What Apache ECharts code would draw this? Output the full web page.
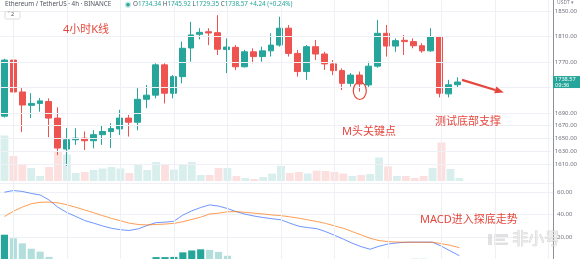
<!DOCTYPE html>
<html><head><meta charset="utf-8">
<script src="https://cdn.jsdelivr.net/npm/echarts@6/dist/echarts.min.js"></script>
<style>html,body{margin:0;padding:0;background:#fff}#c{width:580px;height:259px}</style>
</head><body><div id="c"></div>
<script>
// ---- data ----
const categories = ['06-09 20:00',
 '06-10 00:00','06-10 04:00','06-10 08:00','06-10 12:00','06-10 16:00','06-10 20:00',
 '06-11 00:00','06-11 04:00','06-11 08:00','06-11 12:00','06-11 16:00','06-11 20:00',
 '06-12 00:00','06-12 04:00','06-12 08:00','06-12 12:00','06-12 16:00','06-12 20:00',
 '06-13 00:00','06-13 04:00','06-13 08:00','06-13 12:00','06-13 16:00','06-13 20:00',
 '06-14 00:00','06-14 04:00','06-14 08:00','06-14 12:00','06-14 16:00','06-14 20:00',
 '06-15 00:00','06-15 04:00','06-15 08:00','06-15 12:00','06-15 16:00','06-15 20:00',
 '06-16 00:00','06-16 04:00','06-16 08:00','06-16 12:00','06-16 16:00','06-16 20:00',
 '06-17 00:00','06-17 04:00','06-17 08:00','06-17 12:00','06-17 16:00','06-17 20:00',
 '06-18 00:00','06-18 04:00','06-18 08:00'];
const futureSlots = ['06-18 12:00','06-18 16:00','06-18 20:00','06-19 00:00','06-19 04:00',
 '06-19 08:00','06-19 12:00','06-19 16:00','06-19 20:00','06-20 00:00'];
const opens  = [1685,1773,1723,1702,1705,1708,1682,1633.5,1648,1650.5,1646.5,1656,1661,1665,1682,1675.5,1711.5,1718,1765.5,1721,1747,1792,1813.5,1817.5,1816,1789.5,1793,1762.5,1786,1778.5,1787.5,1796.5,1823,1783.5,1755,1794,1782.5,1767,1756.5,1736.5,1749.5,1734,1763.5,1815,1795,1804,1802,1795.5,1787.5,1809.5,1720,1734.34];
const closes = [1773,1723,1702.5,1705,1709,1682,1635,1648,1650.5,1646.5,1656,1661,1665.5,1682,1675.5,1711.5,1718,1765.5,1721,1747,1791.5,1812.5,1816.5,1815.5,1790,1793.5,1762.5,1786,1778.5,1787.5,1796.5,1823,1783.5,1755,1794,1782.5,1767,1756.5,1736.5,1749.5,1735.5,1763.5,1815,1795,1803.5,1802,1795.5,1787.5,1809.5,1721,1734.33,1738.57];
const lows   = [1683,1687,1660,1682,1692,1652,1624,1607,1640,1632,1634.5,1640,1635,1655.5,1653,1663,1697.5,1713,1705,1713,1736.5,1770.5,1805.5,1796.5,1781,1752.5,1757.5,1761.5,1768,1770.5,1778.5,1794,1778.5,1747,1742,1773,1757.5,1749.5,1726,1731.5,1723.5,1730.5,1761,1778.5,1786,1781,1791.5,1784.5,1786,1714.5,1714.5,1729.35];
const highs  = [1775,1778,1729,1721,1713.5,1713,1699,1666.5,1666,1661,1663,1671,1674,1695,1687,1729,1734,1768,1768,1749.5,1802,1833,1823,1823,1843.5,1807,1796.5,1789,1791.5,1794,1815,1841,1828,1789,1796.5,1804.5,1786,1773,1760,1752.5,1755,1770.5,1836,1828,1807,1812.5,1807,1799.5,1823,1810.5,1742,1745.92];
const volumesK = [45.5,25,17,13,5,14,29.5,26.5,8,9,11,12.5,14,12.5,8,16.5,11,19,16.5,11.5,16.5,19,6,6,13,13,5,3,2,4,7.4,15,8,9,7.4,10.3,10,9,7.4,5,6,7,23.5,14.6,5,5,3,5,13,38.5,12,3];
const macdLine   = [60.2,61.7,60.9,59.1,57.7,53.2,46.6,41.9,38.3,34.7,32.3,29.8,27.7,26.4,25.7,27.2,30.2,32.8,33.2,34.0,39.6,43.4,46.4,48.8,47.7,45.5,42.6,40.4,38.7,37.4,36.3,35.3,32.3,29.5,28.3,27.4,24.7,21.4,17.9,14.2,11.1,8.8,11.5,13.5,14.5,15.1,15.2,15.2,15.1,11.5,7.2,3.0];
const signalLine = [38.3,43.0,46.8,49.8,51.1,51.3,50.6,48.9,46.6,44.2,41.7,39.1,36.6,34.5,32.3,31.1,30.7,31.1,31.5,32.1,33.6,35.7,37.7,40.6,41.3,42.6,42.7,42.1,41.3,40.6,39.7,39.1,38.0,36.8,35.3,33.8,32.1,29.8,27.7,24.7,21.7,18.7,16.6,15.7,15.3,15.1,15.1,15.1,15.1,13.8,12.3,10.2];
const histogram  = [21.9,18.7,14.1,9.3,6.6,1.9,-4.0,-7.0,-8.3,-9.5,-9.4,-9.3,-8.9,-8.1,-6.6,-3.9,-0.5,1.7,1.7,1.9,6.0,7.7,8.7,8.2,6.4,2.9,-0.1,-1.7,-2.6,-3.2,-3.4,-3.8,-5.7,-7.3,-7.0,-6.4,-7.4,-8.4,-9.8,-10.5,-10.6,-9.9,-5.1,-2.2,-0.8,0.0,0.1,0.1,0.0,-2.3,-5.1,-7.2];
const priceTickLabels = [1850,1810,1770,1690,1670,1650,1630,1610];
const priceGridLevels = [1850,1810,1770,1730,1690,1670,1650,1630,1610];
const macdTickLabels = [60,40,20];
const headerTitle = 'Ethereum / TetherUS · 4h · BINANCE';
const headerChange = '+4.24 (+0.24%)';
const barCountdown = '09:36';
const annotations = ['4小时K线','M头关键点','测试底部支撑','MACD进入探底走势'];
const circleAnchor = {index: 40, price: 1725};
const arrowFrom = {index: 51, price: 1742};
const arrowTo = {index: 56, price: 1723};

// ---- build ----
const UP = '#26a69a', DOWN = '#ef5350', RED_NOTE = '#e5473d';
const FONT = '"Noto Sans","Noto Sans CJK SC",sans-serif';
const GRIDC = '#eef0f5';
const axisCats = categories.concat(futureSlots);
const last = categories.length - 1;
const candleData = categories.map((_, i) => [opens[i], closes[i], lows[i], highs[i]]);
const volData = volumesK.map((v, i) => ({value: v, itemStyle: {color: closes[i] >= opens[i] ? 'rgba(38,166,154,0.18)' : 'rgba(239,83,80,0.18)'}}));
const histData = histogram.map((v, i) => {
  const prev = i > 0 ? histogram[i - 1] : -Infinity;
  const c = v >= 0 ? (v >= prev ? '#26a69a' : '#b2dfdb') : (v <= prev ? '#ff5252' : '#ffcdd2');
  return {value: v, itemStyle: {color: c}};
});
const dayStarts = axisCats.filter(c => c.split(' ')[1] === '00:00');
const nulls = axisCats.map(() => null);

const L = -2, R = 27;
const chart = echarts.init(document.getElementById('c'), null, {renderer: 'canvas'});
const catAxis = (g) => ({type: 'category', gridIndex: g, data: axisCats, show: false, boundaryGap: true});
const option = {
  animation: false,
  backgroundColor: '#fff',
  grid: [
    {left: L, right: R, top: 0, height: 176.75},
    {left: L, right: R, top: 100, height: 81},
    {left: L, right: R, top: 183, height: 80.5},
    {left: L, right: R, top: 0, height: 259}
  ],
  xAxis: [catAxis(0), catAxis(1), catAxis(2), catAxis(3)],
  yAxis: [
    {type: 'value', gridIndex: 0, position: 'right', min: 1590, max: 1867.25, interval: 10,
     axisLine: {show: false}, axisTick: {show: false}, splitLine: {show: false},
     axisLabel: {fontSize: 6, color: '#70737d', margin: 4, fontFamily: FONT,
       formatter: v => priceTickLabels.indexOf(Math.round(v)) >= 0 && Math.abs(v - Math.round(v)) < 1e-6 ? v.toFixed(2) : ''}},
    {type: 'value', gridIndex: 1, min: 0, max: 81, show: false},
    {type: 'value', gridIndex: 2, position: 'right', min: 0, max: 68.5, interval: 20,
     axisLine: {show: false}, axisTick: {show: false},
     splitLine: {show: true, lineStyle: {color: GRIDC, width: 1}},
     axisLabel: {fontSize: 6, color: '#70737d', margin: 4, fontFamily: FONT,
       formatter: v => macdTickLabels.indexOf(v) >= 0 ? v.toFixed(2) : ''}},
    {type: 'value', gridIndex: 3, position: 'right', min: 0, max: 1,
     axisLine: {show: true, lineStyle: {color: '#8d9099', width: 1}},
     axisTick: {show: false}, axisLabel: {show: false}, splitLine: {show: false}}
  ],
  series: [
    {type: 'line', xAxisIndex: 3, yAxisIndex: 3, data: nulls, z: 0, silent: true,
     markLine: {silent: true, symbol: ['none', 'none'], label: {show: false},
       lineStyle: {color: GRIDC, width: 1, type: 'solid'},
       data: dayStarts.map(c => ({xAxis: c}))}},
    {type: 'line', xAxisIndex: 0, yAxisIndex: 0, data: nulls, z: 0, silent: true,
     markLine: {silent: true, symbol: ['none', 'none'], label: {show: false},
       lineStyle: {color: GRIDC, width: 1, type: 'solid'},
       data: priceGridLevels.map(v => ({yAxis: v}))}},
    {type: 'bar', xAxisIndex: 1, yAxisIndex: 1, data: volData, barWidth: '88%', z: 1, silent: true},
    {type: 'candlestick', xAxisIndex: 0, yAxisIndex: 0, data: candleData, barWidth: 6.4, z: 3,
     itemStyle: {color: UP, color0: DOWN, borderColor: UP, borderColor0: DOWN, borderWidth: 1}},
    {type: 'bar', xAxisIndex: 2, yAxisIndex: 2, data: histData, barWidth: '80%', z: 2, silent: true},
    {type: 'line', xAxisIndex: 2, yAxisIndex: 2, data: macdLine, symbol: 'none', z: 3,
     lineStyle: {color: '#2962ff', width: 0.9, opacity: 0.75}},
    {type: 'line', xAxisIndex: 2, yAxisIndex: 2, data: signalLine, symbol: 'none', z: 3,
     lineStyle: {color: '#ff6d00', width: 0.9, opacity: 0.75}}
  ]
};
chart.setOption(option);

// ---- header, notes and annotation shapes ----
const toPx = (idx, price) => chart.convertToPixel({xAxisIndex: 0, yAxisIndex: 0}, [idx, price]);
const cPx = toPx(circleAnchor.index, circleAnchor.price);
const a0 = toPx(arrowFrom.index, arrowFrom.price);
const a1 = toPx(arrowTo.index, arrowTo.price);
const lastPx = toPx(last, closes[last]);
const sx = a0[0] + 4.5, sy = a0[1];
const dx = a1[0] - sx, dy = a1[1] - sy, len = Math.hypot(dx, dy);
const ux = dx / len, uy = dy / len;
const tip = [a1[0] + ux * 2, a1[1] + uy * 2];
const base = [a1[0] - ux * 7, a1[1] - uy * 7];
const head = [tip, [base[0] - uy * 3.6, base[1] + ux * 3.6], [base[0] + uy * 3.6, base[1] - ux * 3.6]];
const axisX = 580 - R;

const txt = (id, text, left, top, size, fill, extra) => Object.assign({
  type: 'text', id, left, top, silent: true, z: 20,
  style: Object.assign({text, fill, fontSize: size, fontFamily: FONT}, extra || {})
});
const ohlcRich = '{k|O}{v|' + opens[last].toFixed(2) + '} {k|H}{v|' + highs[last].toFixed(2) +
  '} {k|L}{v|' + lows[last].toFixed(2) + '} {k|C}{v|' + closes[last].toFixed(2) + '} {v|' + headerChange + '}';

chart.setOption({graphic: [
  txt('title', headerTitle, 5, 1, 6.3, '#50535e'),
  {type: 'circle', id: 'dotH', shape: {cx: 128, cy: 4.8, r: 3.2}, style: {fill: 'rgba(38,166,154,0.25)'}, z: 20},
  {type: 'circle', id: 'dot', shape: {cx: 128, cy: 4.8, r: 1.8}, style: {fill: UP}, z: 21},
  {type: 'text', id: 'ohlc', left: 133, top: 1, z: 20, silent: true,
   style: {text: ohlcRich, fontSize: 6.3, fontFamily: FONT, fill: UP,
     rich: {k: {fill: '#50535e', fontSize: 6.3, fontFamily: FONT}, v: {fill: UP, fontSize: 6.3, fontFamily: FONT}}}},
  {type: 'rect', id: 'indBox', shape: {x: 5, y: 11.5, width: 15, height: 7.5, r: 1.5},
   style: {fill: '#fff', stroke: '#d3d3d3', lineWidth: 0.8}, z: 20},
  txt('indTxt', '˅ 2', 8, 12, 5.5, '#555'),
  txt('unit', 'USDT ▾', 557, 0, 5, '#80838c'),
  // last price tag on the price scale
  {type: 'rect', id: 'lastTag', shape: {x: axisX, y: lastPx[1] - 6, width: 27, height: 12},
   style: {fill: UP}, z: 25},
  {type: 'text', id: 'lastTxt', x: axisX + 2, y: lastPx[1] - 5.5, z: 26, silent: true,
   style: {text: closes[last].toFixed(2) + '\n' + barCountdown, fill: '#fff', fontSize: 5.6,
     lineHeight: 5.8, fontFamily: FONT, textVerticalAlign: 'top'}},
  txt('n1', annotations[0], 63, 24, 11, RED_NOTE),
  txt('n2', annotations[1], 342, 126, 11, RED_NOTE),
  txt('n3', annotations[2], 435, 116, 11, RED_NOTE),
  txt('n4', annotations[3], 420, 214, 11, RED_NOTE),
  {type: 'ellipse', id: 'circ', shape: {cx: cPx[0], cy: cPx[1], rx: 6.5, ry: 8.8},
   style: {fill: 'none', stroke: RED_NOTE, lineWidth: 1.2}, z: 20},
  {type: 'line', id: 'arrowLine', shape: {x1: sx, y1: sy, x2: base[0], y2: base[1]},
   style: {stroke: RED_NOTE, lineWidth: 2.2}, z: 20},
  {type: 'polygon', id: 'arrowHead', shape: {points: head}, style: {fill: RED_NOTE}, z: 20},
  // watermark
  {type: 'group', id: 'wm', z: 30, children: [
    {type: 'rect', shape: {x: 488, y: 234, width: 4, height: 11}, style: {fill: 'rgba(200,200,200,0.55)'}},
    {type: 'rect', shape: {x: 494, y: 234, width: 14, height: 3}, style: {fill: 'rgba(200,200,200,0.55)'}},
    {type: 'rect', shape: {x: 494, y: 238.5, width: 11, height: 2.5}, style: {fill: 'rgba(200,200,200,0.55)'}},
    {type: 'rect', shape: {x: 494, y: 242.5, width: 14, height: 2.5}, style: {fill: 'rgba(200,200,200,0.55)'}}
  ]},
  txt('wmText', '非小号', 512, 231, 16, 'rgba(235,235,235,0.75)', {stroke: 'rgba(190,190,190,0.8)', lineWidth: 0.6})
]});
</script>
</body></html>
